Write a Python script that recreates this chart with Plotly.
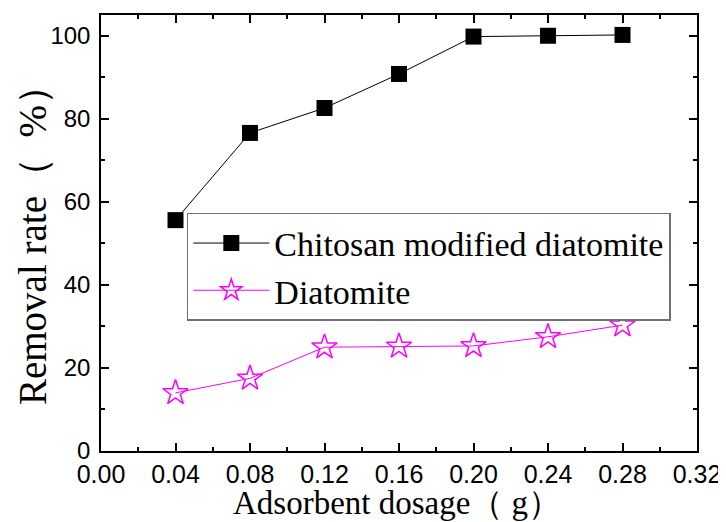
import plotly.graph_objects as go

dosage = [0.04, 0.08, 0.12, 0.16, 0.20, 0.24, 0.28]
chitosan = [55.6, 76.6, 82.6, 90.8, 99.8, 100.0, 100.2]
diatomite = [14.0, 17.5, 25.0, 25.2, 25.3, 27.5, 30.3]

x_ticks = [0.00, 0.04, 0.08, 0.12, 0.16, 0.20, 0.24, 0.28, 0.32]
x_labels = ["0.00", "0.04", "0.08", "0.12", "0.16", "0.20", "0.24", "0.28", "0.32"]
y_ticks = [0, 20, 40, 60, 80, 100]

x_title = "Adsorbent dosage（\u00a0g）"
y_title = "Removal rate（\u00a0\u00a0%）"

serif = "Liberation Serif, Times New Roman, serif"
sans = "Liberation Sans, Arial, sans-serif"

fig = go.Figure()
fig.add_trace(go.Scatter(
    x=dosage, y=chitosan, mode="lines+markers", name="Chitosan modified diatomite",
    line=dict(color="black", width=1),
    marker=dict(symbol="square", size=16, color="black"),
))
fig.add_trace(go.Scatter(
    x=dosage, y=diatomite, mode="lines+markers", name="Diatomite",
    line=dict(color="#FF00FF", width=1),
    marker=dict(symbol="star-open", size=19, color="#FF00FF", line=dict(width=1.5, color="#FF00FF")),
))

axis_common = dict(
    showline=True, linecolor="black", linewidth=1.5, mirror="allticks",
    ticks="inside", ticklen=8, tickwidth=1.5, tickcolor="black",
    showgrid=False, zeroline=False, automargin=False,
)

# page body has an 8px margin, so the figure is offset by 8px
fig.update_layout(
    width=718, height=514,
    margin=dict(l=93, r=29, t=7, b=71),
    paper_bgcolor="white", plot_bgcolor="white",
    showlegend=True,
    legend=dict(
        x=0.144, y=0.546, xanchor="left", yanchor="top",
        bordercolor="#707070", borderwidth=1.5, bgcolor="white",
        font=dict(family=serif, size=34, color="black"),
        itemwidth=76, tracegroupgap=0,
    ),
    xaxis=dict(
        range=[0, 0.32], tickvals=x_ticks, ticktext=x_labels,
        minor=dict(ticks="inside", dtick=0.02, ticklen=4, tickwidth=1.5, tickcolor="black"),
        tickfont=dict(family=sans, size=25, color="black"),
        ticklabelstandoff=0,
        **axis_common,
    ),
    yaxis=dict(
        range=[0, 105], tickvals=y_ticks,
        minor=dict(ticks="inside", dtick=10, ticklen=4, tickwidth=1.5, tickcolor="black"),
        tickfont=dict(family=sans, size=24, color="black"),
        ticklabelstandoff=4,
        **axis_common,
    ),
    annotations=[
        dict(text=x_title, xref="paper", yref="paper", x=0.497, y=-0.119,
             xanchor="center", yanchor="middle", showarrow=False,
             font=dict(family=serif, size=33, color="black")),
        dict(text=y_title, xref="paper", yref="paper", x=-0.116, y=0.495,
             xanchor="center", yanchor="middle", showarrow=False, textangle=-90,
             font=dict(family=serif, size=39, color="black")),
    ],
)

fig.write_html("out.html")
